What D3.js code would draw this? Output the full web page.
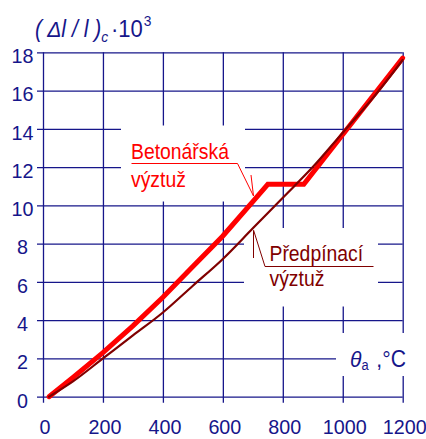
<!DOCTYPE html>
<html>
<head>
<meta charset="utf-8">
<script src="https://cdn.jsdelivr.net/npm/d3@7"></script>
<style>
  body { margin: 0; background: #fff; }
  svg { display: block; }
</style>
</head>
<body>
<svg id="chart" width="426" height="439"></svg>
<script>
//////////////////////////////////////
//////////// DATA ////////////////////
//////////////////////////////////////

var xTicks = [0, 200, 400, 600, 800, 1000, 1200];
var yTicks = [0, 2, 4, 6, 8, 10, 12, 14, 16, 18];

// reinforcing steel (Betonářská výztuž), temperature in °C
var rebarTemp   = [20, 100, 200, 300, 400, 500, 600, 700, 750, 870, 1200];
var rebarStrain = [0, 1.0, 2.3, 3.7, 5.2, 6.8, 8.4, 10.2, 11.1, 11.1, 17.7];

// prestressing steel (Předpínací výztuž)
var tendonTemp   = [20, 100, 200, 300, 400, 500, 600, 700, 800, 900, 1000, 1100, 1200];
var tendonStrain = [0, 0.8, 2.0, 3.2, 4.4, 5.8, 7.2, 8.8, 10.4, 12.0, 13.8, 15.6, 17.6];

//////////////////////////////////////
//////////// CHART ///////////////////
//////////////////////////////////////

var navy = "#16168a",
    red = "#ff0000",
    darkRed = "#800000",
    fontFam = "'Liberation Sans', Arial, sans-serif";

var svg = d3.select("#chart");

var x = d3.scaleLinear().domain([0, 1200]).range([43, 402.7]);
var y = d3.scaleLinear().domain([0, 18]).range([396.7, 52.3]);

// horizontal grid + y labels
var yAxis = svg.append("g")
    .attr("transform", "translate(" + x(0) + ",0)")
    .call(d3.axisLeft(y).tickValues(yTicks).tickSize(-(x(1200) - x(0))));
yAxis.select(".domain").remove();
yAxis.selectAll(".tick line")
    .attr("x1", -6)
    .attr("stroke", navy)
    .attr("stroke-width", 1.3);
yAxis.selectAll(".tick text")
    .attr("x", null).attr("dy", null)
    .attr("transform", "translate(-20.5,10.3) scale(0.94,1)")
    .attr("text-anchor", "middle")
    .attr("fill", navy)
    .style("font", "21px " + fontFam);

// vertical grid + x labels (kept just inside the bottom edge)
var xAxis = svg.append("g")
    .attr("transform", "translate(0," + y(0) + ")")
    .call(d3.axisBottom(x).tickValues(xTicks).tickFormat(d3.format("d"))
      .tickSize(-(y(0) - y(18))));
xAxis.select(".domain").remove();
xAxis.selectAll(".tick line")
    .attr("y1", 6)
    .attr("stroke", navy)
    .attr("stroke-width", 1.3);
xAxis.selectAll(".tick text")
    .attr("y", null).attr("dy", null)
    .attr("transform", "translate(1.5,37.5) scale(0.94,1)")
    .attr("text-anchor", "middle")
    .attr("fill", navy)
    .style("font", "21px " + fontFam);

// white boxes behind the labels
var masks = [[121, 125.5, 124, 76], [244, 228, 134, 78.5], [336, 333, 80, 43]];
svg.selectAll(".mask")
    .data(masks)
  .enter().append("rect")
    .attr("class", "mask")
    .attr("x", function(d) { return d[0]; })
    .attr("y", function(d) { return d[1]; })
    .attr("width", function(d) { return d[2]; })
    .attr("height", function(d) { return d[3]; })
    .attr("fill", "#fff");

// curves
var rebarLine = d3.line()
    .x(function(d, i) { return x(rebarTemp[i]); })
    .y(function(d) { return y(d); });

var tendonLine = d3.line()
    .curve(d3.curveMonotoneX)
    .x(function(d, i) { return x(tendonTemp[i]); })
    .y(function(d) { return y(d); });

svg.append("path")
    .attr("d", rebarLine(rebarStrain))
    .attr("fill", "none")
    .attr("stroke", red)
    .attr("stroke-width", 5)
    .attr("stroke-linecap", "round");

svg.append("path")
    .attr("d", tendonLine(tendonStrain))
    .attr("fill", "none")
    .attr("stroke", darkRed)
    .attr("stroke-width", 2.2)
    .attr("stroke-linecap", "round");

// leader lines
function leader(pts, color) {
  svg.append("polyline")
      .attr("points", pts.join(" "))
      .attr("fill", "none")
      .attr("stroke", color)
      .attr("stroke-width", 1);
}
leader([[131.5, 163.5], [237.5, 163.5], [253.5, 196]], red);
leader([[251, 175], [253.5, 196]], red);
leader([[373.5, 266.5], [265, 266.5], [253.5, 230]], darkRed);
leader([[253.5, 231], [253.5, 258]], darkRed);

// labels
function label(px, py, str, color) {
  return svg.append("text")
      .attr("transform", "translate(" + px + "," + py + ") scale(0.88,1)")
      .attr("fill", color)
      .style("font", "22px " + fontFam)
      .text(str);
}
label(131, 158.5, "Betonářská", red);
label(131, 186.5, "výztuž", red);
label(269.5, 261, "Předpínací", darkRed);
label(269.5, 286, "výztuž", darkRed);

// y title
var title = svg.append("text")
    .attr("transform", "translate(35,37) scale(0.92,1)")
    .attr("fill", navy)
    .style("font", "23px " + fontFam);
title.append("tspan").style("font-style", "italic").text("( \u0394l / l )");
title.append("tspan").style("font-style", "italic").attr("font-size", "15px").attr("dy", 5).text("c");
title.append("tspan").attr("font-size", "24px").attr("dy", -5).attr("dx", 3).text("\u00b710");
title.append("tspan").attr("font-size", "15px").attr("dy", -11).attr("dx", 1).text("3");

// x title
var xTitle = svg.append("text")
    .attr("transform", "translate(350,367) scale(0.92,1)")
    .attr("fill", navy)
    .style("font", "23px " + fontFam);
xTitle.append("tspan").style("font-style", "italic").text("\u03b8");
xTitle.append("tspan").attr("font-size", "14px").attr("dy", 3).text("a");
xTitle.append("tspan").attr("dy", -3).attr("dx", 2).text(" ,\u00b0C");
</script>
</body>
</html>
